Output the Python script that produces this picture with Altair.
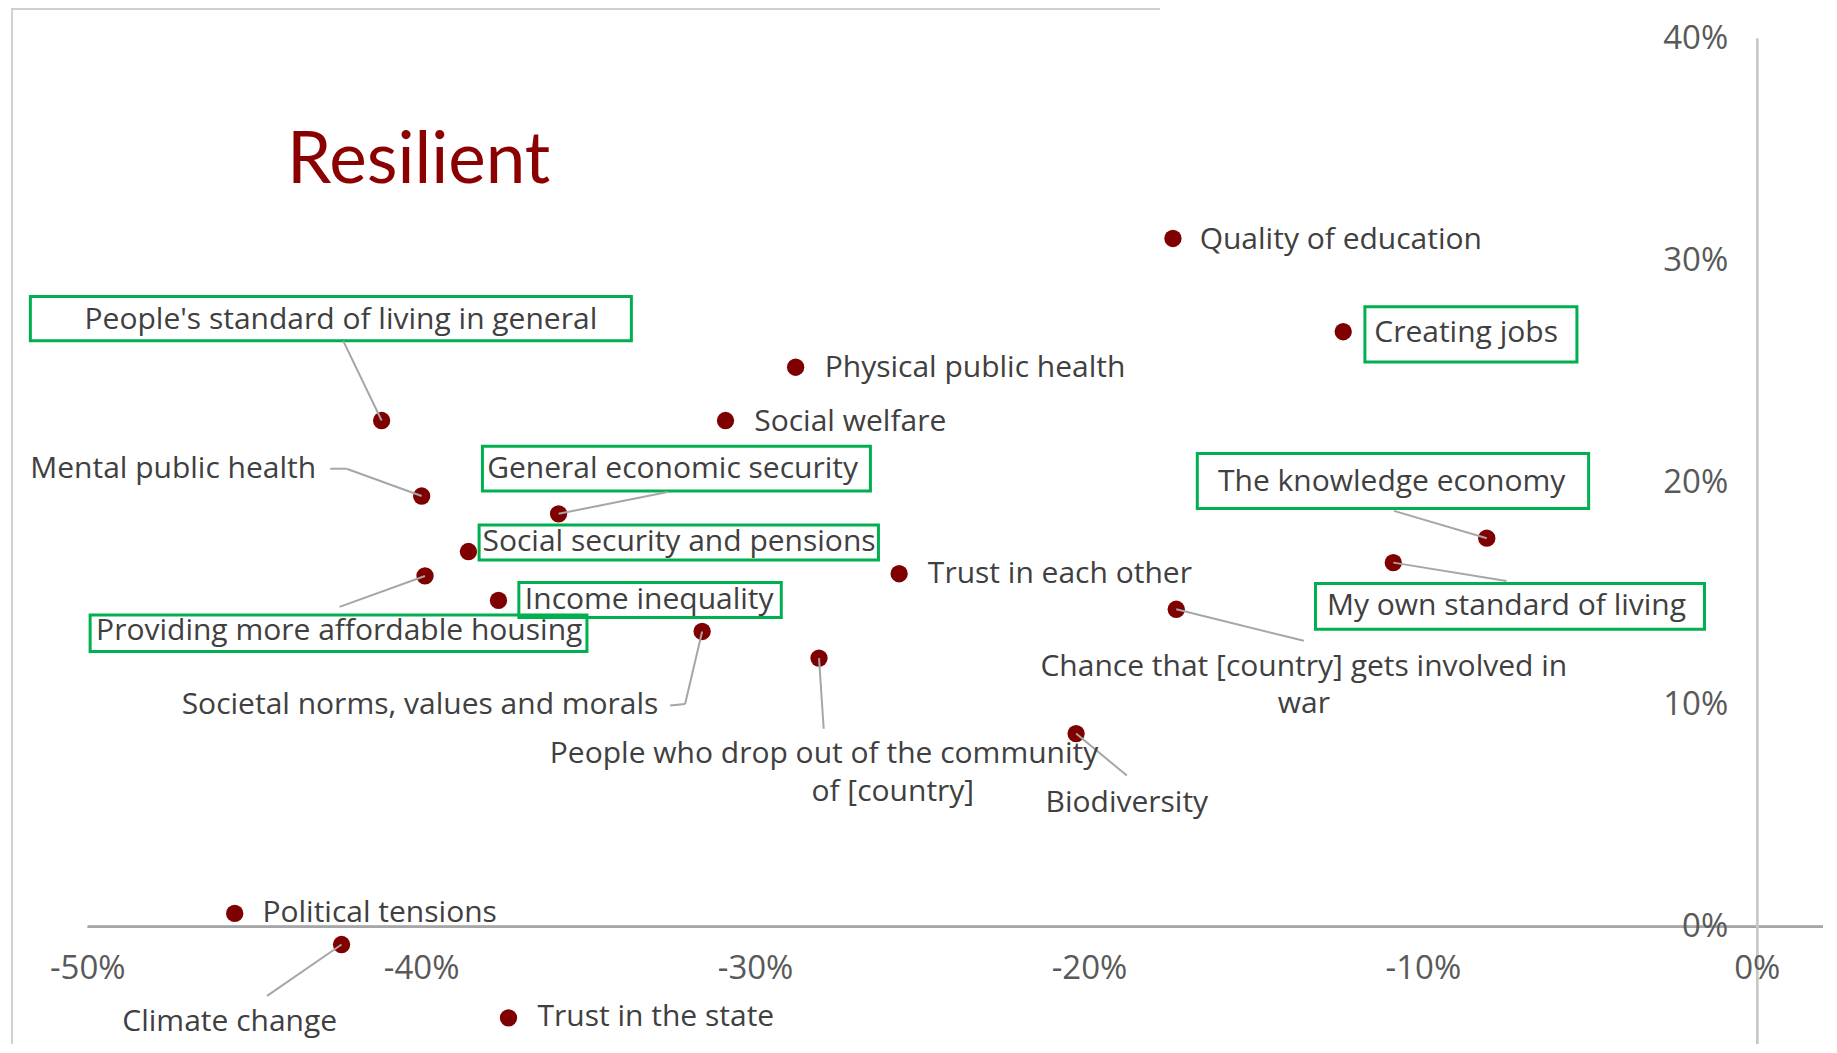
import altair as alt
import pandas as pd

# ---------------- data (in %) ----------------
categories = [
    "Quality of education", "Creating jobs", "Physical public health", "Social welfare",
    "People's standard of living in general", "Mental public health",
    "General economic security", "Social security and pensions",
    "Providing more affordable housing", "Income inequality",
    "Societal norms, values and morals", "People who drop out of the community of [country]",
    "Trust in each other", "Chance that [country] gets involved in war", "Biodiversity",
    "The knowledge economy", "My own standard of living", "Political tensions",
    "Climate change", "Trust in the state",
]
x_values = [-17.5, -12.4, -28.8, -30.9, -41.2, -40.0, -35.9, -38.6, -39.9, -37.7,
            -31.6, -28.1, -25.7, -17.4, -20.4, -8.1, -10.9, -45.6, -42.4, -37.4]
y_values = [31.0, 26.8, 25.2, 22.8, 22.8, 19.4, 18.6, 16.9, 15.8, 14.7,
            13.3, 12.1, 15.9, 14.3, 8.7, 17.5, 16.4, 0.6, -0.8, -4.1]

x_ticks = [-50, -40, -30, -20, -10, 0]
x_tick_labels = ["-50%", "-40%", "-30%", "-20%", "-10%", "0%"]
y_ticks = [0, 10, 20, 30, 40]
y_tick_labels = ["0%", "10%", "20%", "30%", "40%"]

highlighted = [
    "People's standard of living in general", "General economic security",
    "Social security and pensions", "Providing more affordable housing",
    "Income inequality", "Creating jobs", "The knowledge economy",
    "My own standard of living",
]

# ---------------- annotation layout (label anchors, boxes, leaders) ----------------
# label text lines: (text, x, y, align)
label_layout = [
    ("Quality of education", -16.70, 30.92, "left"),
    ("Creating jobs", -11.47, 26.75, "left"),
    ("Physical public health", -27.93, 25.17, "left"),
    ("Social welfare", -30.04, 22.74, "left"),
    ("People's standard of living in general", -42.42, 27.34, "center"),
    ("Mental public health", -43.16, 20.63, "right"),
    ("General economic security", -38.04, 20.63, "left"),
    ("Social security and pensions", -38.18, 17.31, "left"),
    ("Providing more affordable housing", -42.47, 13.30, "center"),
    ("Income inequality", -36.91, 14.72, "left"),
    ("Societal norms, values and morals", -32.91, 9.97, "right"),
    ("People who drop out of the community", -27.95, 7.78, "center"),
    ("of [country]", -25.89, 6.08, "center"),
    ("Trust in each other", -24.84, 15.88, "left"),
    ("Chance that [country] gets involved in", -13.58, 11.72, "center"),
    ("war", -13.58, 10.03, "center"),
    ("Biodiversity", -18.88, 5.59, "center"),
    ("The knowledge economy", -10.95, 20.05, "center"),
    ("My own standard of living", -7.51, 14.46, "center"),
    ("Political tensions", -44.77, 0.63, "left"),
    ("Climate change", -45.75, -4.27, "center"),
    ("Trust in the state", -36.53, -4.06, "left"),
]

# green boxes around highlighted labels: name -> (x1, x2, y1, y2)
box_layout = {
    "People's standard of living in general": (-51.72, -33.72, 28.39, 26.39),
    "General economic security": (-38.18, -26.56, 21.64, 19.63),
    "Social security and pensions": (-38.28, -26.32, 18.10, 16.52),
    "Providing more affordable housing": (-49.93, -35.05, 14.04, 12.40),
    "Income inequality": (-37.09, -29.23, 15.51, 13.93),
    "Creating jobs": (-11.75, -5.40, 27.92, 25.44),
    "The knowledge economy": (-16.77, -5.05, 21.32, 18.84),
    "My own standard of living": (-13.23, -1.58, 15.46, 13.40),
}

# leader lines: name -> list of label-side end points (first one joins the point)
leader_layout = {
    "People's standard of living in general": [(-42.35, 26.39)],
    "Mental public health": [(-42.25, 20.63), (-42.74, 20.63)],
    "General economic security": [(-32.63, 19.58)],
    "Providing more affordable housing": [(-42.46, 14.41)],
    "Societal norms, values and morals": [(-32.11, 10.03), (-32.56, 9.97)],
    "People who drop out of the community of [country]": [(-27.96, 8.92)],
    "Chance that [country] gets involved in war": [(-13.58, 12.88)],
    "Biodiversity": [(-18.88, 6.81)],
    "The knowledge economy": [(-10.88, 18.73)],
    "My own standard of living": [(-7.51, 15.57)],
    "Climate change": [(-44.63, -3.11)],
}

# ---------------- tables ----------------
points = pd.DataFrame({"name": categories, "x": x_values, "y": y_values})
pos = {n: (xv, yv) for n, xv, yv in zip(categories, x_values, y_values)}

labels = pd.DataFrame(label_layout, columns=["text", "x", "y", "align"])

boxes = pd.DataFrame(
    [(n,) + box_layout[n] for n in highlighted], columns=["name", "x", "x2", "y", "y2"]
)

seg_rows = []
for n, ends in leader_layout.items():
    start = pos[n]
    for end in ends:
        seg_rows.append((n, start[0], start[1], end[0], end[1]))
        start = end
segments = pd.DataFrame(seg_rows, columns=["name", "x", "y", "x2", "y2"])

xt = pd.DataFrame({"v": x_ticks, "label": x_tick_labels})
yt = pd.DataFrame({"v": y_ticks, "label": y_tick_labels})

# ---------------- chart ----------------
W, H = 1815, 1036
XS = alt.Scale(domain=[-52.39, 1.97], nice=False, zero=False)
YS = alt.Scale(domain=[-5.28, 41.38], nice=False, zero=False)

FONT = "Open Sans"
LABEL_COLOR = "#404040"
TICK_COLOR = "#595959"
RED = "#7F0000"
GREEN = "#00B050"

base = alt.Chart(points)

frame_left = base.mark_rule(color="#D0D0D0", strokeWidth=1.5).encode(
    x=alt.value(4), y=alt.value(0), y2=alt.value(H)
)
frame_top = base.mark_rule(color="#D0D0D0", strokeWidth=1.5).encode(
    x=alt.value(4), x2=alt.value(1152), y=alt.value(0.75)
)

x_axis_line = alt.Chart(xt).mark_rule(color="#A6A6A6", strokeWidth=2).encode(
    x=alt.X(datum=x_ticks[0], type="quantitative", scale=XS, axis=None),
    x2=alt.value(W),
    y=alt.Y(datum=0, type="quantitative", scale=YS, axis=None),
)
y_axis_line = alt.Chart(yt).mark_rule(color="#C8C8C8", strokeWidth=2).encode(
    x=alt.X(datum=0, type="quantitative", scale=XS, axis=None),
    y=alt.Y(datum=y_ticks[-1], type="quantitative", scale=YS, axis=None),
    y2=alt.value(H),
)

x_tick_text = alt.Chart(xt).mark_text(
    font=FONT, fontSize=33, color=TICK_COLOR, align="center", baseline="middle", dy=42
).encode(
    x=alt.X("v:Q", scale=XS, axis=None),
    y=alt.Y(datum=0, type="quantitative", scale=YS, axis=None),
    text="label:N",
)
y_tick_text = alt.Chart(yt).mark_text(
    font=FONT, fontSize=33, color=TICK_COLOR, align="right", baseline="middle", dx=-29
).encode(
    x=alt.X(datum=0, type="quantitative", scale=XS, axis=None),
    y=alt.Y("v:Q", scale=YS, axis=None),
    text="label:N",
)

box_layer = alt.Chart(boxes).mark_rect(
    fillOpacity=0, stroke=GREEN, strokeWidth=3
).encode(
    x=alt.X("x:Q", scale=XS, axis=None), x2="x2:Q",
    y=alt.Y("y:Q", scale=YS, axis=None), y2="y2:Q",
)

point_layer = base.mark_circle(size=300, color=RED, opacity=1).encode(
    x=alt.X("x:Q", scale=XS, axis=None),
    y=alt.Y("y:Q", scale=YS, axis=None),
)

leader_layer = alt.Chart(segments).mark_rule(color="#A6A6A6", strokeWidth=2).encode(
    x=alt.X("x:Q", scale=XS, axis=None), x2="x2:Q",
    y=alt.Y("y:Q", scale=YS, axis=None), y2="y2:Q",
)

def label_layer(al):
    return alt.Chart(labels).transform_filter(
        alt.datum.align == al
    ).mark_text(
        font=FONT, fontSize=30, color=LABEL_COLOR, align=al, baseline="middle"
    ).encode(
        x=alt.X("x:Q", scale=XS, axis=None),
        y=alt.Y("y:Q", scale=YS, axis=None),
        text="text:N",
    )

chart = alt.layer(
    frame_left, frame_top, x_axis_line, y_axis_line, box_layer, point_layer,
    leader_layer, label_layer("left"), label_layer("center"), label_layer("right"),
    x_tick_text, y_tick_text,
).properties(
    width=W, height=H, padding=0,
    autosize=alt.AutoSizeParams(type="none"),
    title=alt.TitleParams(
        "Resilient", anchor="start", frame="group", font="Lato", fontSize=71,
        fontWeight="normal", color="#8B0000", baseline="alphabetic",
        offset=0, dx=279, dy=247,
    ),
).configure_view(stroke=None)

chart.save("out.html", embed_options={"renderer": "svg", "actions": False})
